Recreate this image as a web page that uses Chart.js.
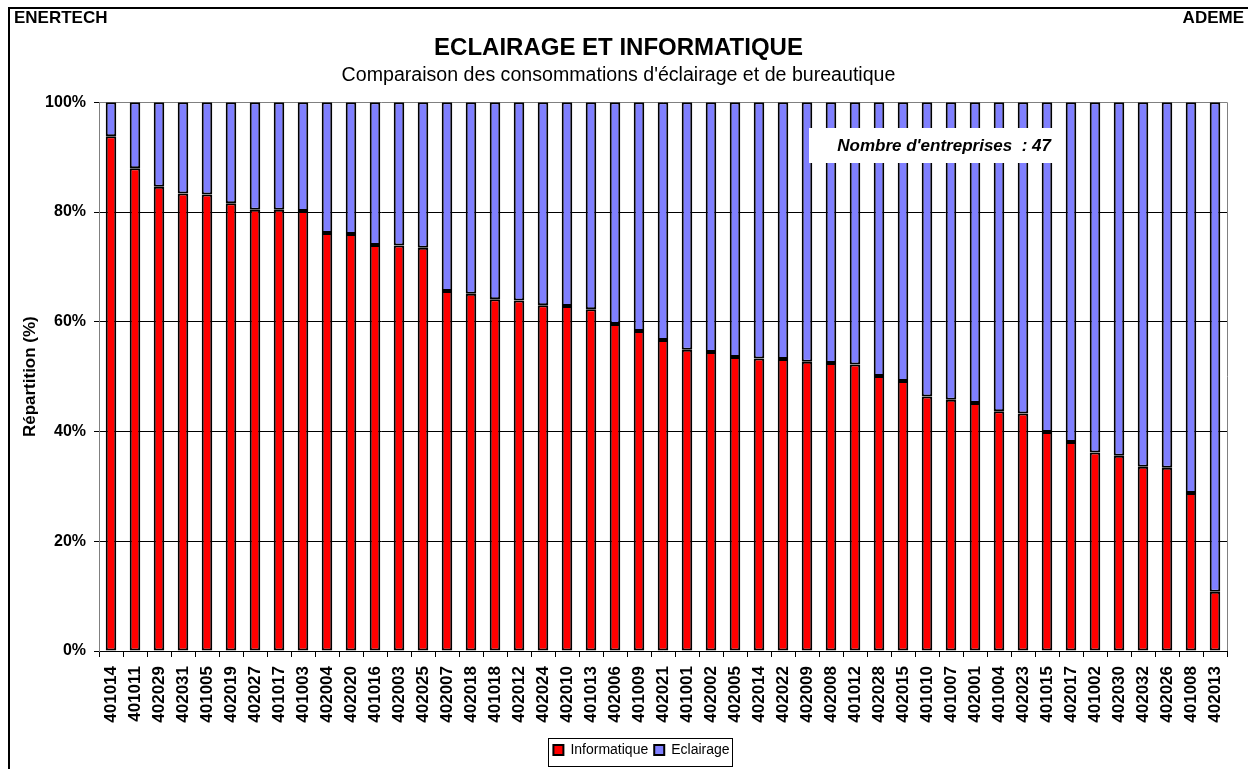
<!DOCTYPE html>
<html>
<head>
<meta charset="utf-8">
<script src="https://cdn.jsdelivr.net/npm/chart.js@4/dist/chart.umd.min.js"></script>
<style>
  html, body { margin: 0; padding: 0; background: #fff; }
  #wrap { width: 1248px; height: 769px; }
</style>
</head>
<body>
<div id="wrap"><canvas id="repartition" width="1248" height="769"></canvas></div>
<script>
const entreprises = [
  "401014", "401011", "402029", "402031", "401005", "402019", "402027", "401017", "401003", "402004",
  "402020", "401016", "402003", "402025", "402007", "402018", "401018", "402012", "402024", "402010",
  "401013", "402006", "401009", "402021", "401001", "402002", "402005", "402014", "402022", "402009",
  "402008", "401012", "402028", "402015", "401010", "401007", "402001", "401004", "402023", "401015",
  "402017", "401002", "402030", "402032", "402026", "401008", "402013",
];

const informatique = [
  93.8, 88.0, 84.6, 83.4, 83.2, 81.6, 80.4, 80.4, 80.2, 76.2,
  76.0, 74.0, 73.9, 73.5, 65.6, 65.1, 64.1, 63.9, 63.0, 62.9,
  62.3, 59.6, 58.3, 56.7, 54.9, 54.5, 53.6, 53.3, 53.2, 52.7,
  52.5, 52.2, 50.1, 49.2, 46.4, 45.8, 45.2, 43.7, 43.3, 39.9,
  38.1, 36.2, 35.6, 33.6, 33.4, 28.8, 10.8,
];

const eclairage = [
  6.2, 12.0, 15.4, 16.6, 16.8, 18.4, 19.6, 19.6, 19.8, 23.8,
  24.0, 26.0, 26.1, 26.5, 34.4, 34.9, 35.9, 36.1, 37.0, 37.1,
  37.7, 40.4, 41.7, 43.3, 45.1, 45.5, 46.4, 46.7, 46.8, 47.3,
  47.5, 47.8, 49.9, 50.8, 53.6, 54.2, 54.8, 56.3, 56.7, 60.1,
  61.9, 63.8, 64.4, 66.4, 66.6, 71.2, 89.2,
];

const yTicks = [0, 20, 40, 60, 80, 100];

const police = "'Liberation Sans', Arial, sans-serif";

// cadre, en-tetes, encadre "Nombre d'entreprises"
const decor = {
  id: "decor",
  beforeDraw(chart) {
    const ctx = chart.ctx;
    ctx.save();
    ctx.fillStyle = "#fff";
    ctx.fillRect(0, 0, chart.width, chart.height);
    ctx.strokeStyle = "#000";
    ctx.lineWidth = 2;
    ctx.strokeRect(9, 8, chart.width + 20, chart.height + 20);
    ctx.fillStyle = "#000";
    ctx.font = "bold 17px " + police;
    ctx.textBaseline = "middle";
    ctx.textAlign = "left";
    ctx.fillText("ENERTECH", 14, 18);
    ctx.textAlign = "right";
    ctx.fillText("ADEME", 1244, 18);
    ctx.restore();
  },
  afterLayout(chart) {
    // legende decalee comme dans l'original
    chart.legend.left += 23;
    chart.legend.right += 23;
  },
  afterDatasetsDraw(chart) {
    const ctx = chart.ctx;
    const a = chart.chartArea;
    ctx.save();
    ctx.strokeStyle = "#808080";
    ctx.lineWidth = 1;
    ctx.beginPath();
    ctx.moveTo(a.right + 0.5, a.top);
    ctx.lineTo(a.right + 0.5, a.bottom);
    ctx.stroke();
    ctx.fillStyle = "#fff";
    ctx.fillRect(809, 128, 244, 35);
    ctx.fillStyle = "#000";
    ctx.font = "italic bold 17px " + police;
    ctx.textAlign = "right";
    ctx.textBaseline = "middle";
    ctx.fillText("Nombre d'entreprises  : 47", 1051, 146);
    ctx.restore();
  },
  afterDraw(chart) {
    const boxes = chart.legend.legendHitBoxes;
    if (!boxes || !boxes.length) return;
    const ctx = chart.ctx;
    const first = boxes[0];
    const last = boxes[boxes.length - 1];
    ctx.save();
    ctx.strokeStyle = "#000";
    ctx.lineWidth = 1;
    ctx.strokeRect(Math.round(first.left - 5) + 0.5, chart.legend.top + 1.5,
      Math.round(last.left + last.width - first.left + 8), chart.legend.height - 2);
    ctx.restore();
  },
};

new Chart(document.getElementById("repartition"), {
  type: "bar",
  data: {
    labels: entreprises,
    datasets: [
      {
        label: "Informatique",
        data: informatique,
        backgroundColor: "#ff0000",
        borderColor: "#000",
        borderWidth: 2,
        borderSkipped: false,
        barPercentage: 0.44,
        categoryPercentage: 1,
      },
      {
        label: "Eclairage",
        data: eclairage,
        backgroundColor: "#8080ff",
        borderColor: "#000",
        borderWidth: 2,
        borderSkipped: false,
        barPercentage: 0.44,
        categoryPercentage: 1,
      },
    ],
  },
  options: {
    responsive: false,
    animation: false,
    layout: { padding: { top: 8, left: 10, right: 21, bottom: 2 } },
    plugins: {
      title: {
        display: true,
        text: "ECLAIRAGE ET INFORMATIQUE",
        color: "#000",
        font: { family: police, size: 24, weight: "bold" },
        padding: { top: 26, bottom: 0 },
      },
      subtitle: {
        display: true,
        text: "Comparaison des consommations d'éclairage et de bureautique",
        color: "#000",
        font: { family: police, size: 19.6, weight: "normal" },
        padding: { top: 1, bottom: 15 },
      },
      legend: {
        position: "bottom",
        labels: {
          color: "#000",
          font: { family: police, size: 14 },
          boxWidth: 10,
          boxHeight: 10,
          padding: 6,
        },
      },
      tooltip: { enabled: false },
    },
    scales: {
      x: {
        stacked: true,
        afterFit: (scale) => { scale.height = 86; },
        grid: {
          display: true,
          drawOnChartArea: false,
          offset: true,
          tickLength: 6,
          color: "#000",
        },
        border: { color: "#000" },
        ticks: {
          autoSkip: false,
          maxRotation: 90,
          minRotation: 90,
          padding: 9,
          color: "#000",
          font: { family: police, size: 17, weight: "bold" },
        },
      },
      y: {
        stacked: true,
        min: 0,
        max: 100,
        afterFit: (scale) => { scale.width = 89; },
        afterBuildTicks: (scale) => { scale.ticks = yTicks.map((v) => ({ value: v })); },
        grid: {
          color: (ctx) => (ctx.tick && ctx.tick.value === 100 ? "#808080" : "#000"),
          tickColor: "#000",
          tickLength: 5,
        },
        border: { color: "#808080" },
        ticks: {
          padding: 8,
          color: "#000",
          font: { family: police, size: 16, weight: "bold" },
          callback: (v) => v + "%",
        },
        title: {
          display: true,
          text: "Répartition (%)",
          color: "#000",
          font: { family: police, size: 17, weight: "bold" },
          padding: { top: 10, bottom: 0 },
        },
      },
    },
  },
  plugins: [decor],
});
</script>
</body>
</html>
